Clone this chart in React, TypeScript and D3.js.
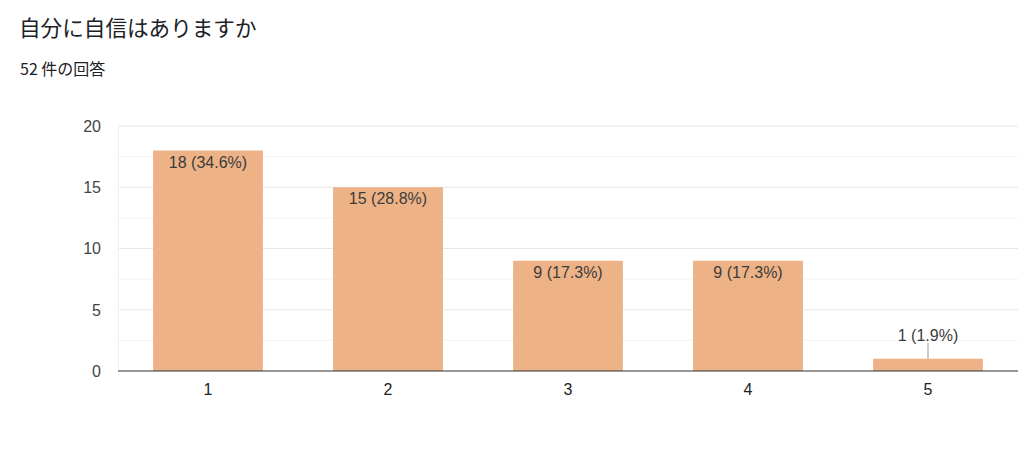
import { useEffect, useRef } from "react";
import * as d3 from "d3";

const title = "自分に自信はありますか";
const subtitle = "52 件の回答";
const categories = ["1", "2", "3", "4", "5"];
const counts = [18, 15, 9, 9, 1];
const percents = ["34.6%", "28.8%", "17.3%", "17.3%", "1.9%"];
const yTicks = [0, 5, 10, 15, 20];
const yMinorTicks = [2.5, 7.5, 12.5, 17.5];

const W = 1024,
  H = 462;
const m = { top: 126, right: 6, bottom: 91, left: 118 };
const FONT = "'Liberation Sans', Arial, 'Noto Sans CJK JP', sans-serif";
const JP = "'Noto Sans CJK JP', sans-serif";

export default function App() {
  const ref = useRef<SVGSVGElement>(null);

  useEffect(() => {
    document.body.style.margin = "0";
    const svg = d3.select(ref.current!);
    svg.selectAll("*").remove();

    const x = d3
      .scaleBand<string>()
      .domain(categories)
      .range([m.left, W - m.right])
      .paddingInner(0.39)
      .paddingOuter(0.195);

    const y = d3
      .scaleLinear()
      .domain([0, 20])
      .range([H - m.bottom, m.top]);

    // title + response count
    svg
      .append("text")
      .attr("x", 19)
      .attr("y", 36)
      .attr("font-family", JP)
      .attr("font-size", 21.6)
      .attr("fill", "#202124")
      .text(title);

    svg
      .append("text")
      .attr("x", 20)
      .attr("y", 75)
      .attr("font-family", JP)
      .attr("font-size", 16)
      .attr("fill", "#202124")
      .text(subtitle);

    // gridlines
    svg
      .append("g")
      .selectAll("line")
      .data(yMinorTicks)
      .join("line")
      .attr("x1", m.left)
      .attr("x2", W - m.right)
      .attr("y1", (d) => y(d))
      .attr("y2", (d) => y(d))
      .attr("stroke", "#f3f3f3");

    svg
      .append("g")
      .selectAll("line")
      .data(yTicks.filter((d) => d !== 0))
      .join("line")
      .attr("x1", m.left)
      .attr("x2", W - m.right)
      .attr("y1", (d) => y(d))
      .attr("y2", (d) => y(d))
      .attr("stroke", "#e6e6e6");

    svg
      .append("line")
      .attr("x1", m.left + 0.5)
      .attr("x2", m.left + 0.5)
      .attr("y1", y(20))
      .attr("y2", y(0))
      .attr("stroke", "#f0f0f0");

    // y labels
    svg
      .append("g")
      .selectAll("text")
      .data(yTicks)
      .join("text")
      .attr("x", 101)
      .attr("y", (d) => y(d))
      .attr("dy", "0.36em")
      .attr("text-anchor", "end")
      .attr("font-family", FONT)
      .attr("font-size", 16)
      .attr("fill", "#444")
      .text((d) => d);

    // bars
    svg
      .append("g")
      .selectAll("rect")
      .data(counts)
      .join("rect")
      .attr("x", (_, i) => x(categories[i])!)
      .attr("y", (d) => y(d))
      .attr("width", x.bandwidth())
      .attr("height", (d) => y(0) - y(d))
      .attr("fill", "#edb386");

    // bar labels: inside when there is room, otherwise above with a leader line
    counts.forEach((c, i) => {
      const cx = x(categories[i])! + x.bandwidth() / 2;
      const label = `${c} (${percents[i]})`;
      const inside = y(0) - y(c) > 24;
      if (!inside) {
        svg
          .append("line")
          .attr("x1", cx)
          .attr("x2", cx)
          .attr("y1", y(c))
          .attr("y2", y(c) - 16)
          .attr("stroke", "#999");
      }
      svg
        .append("text")
        .attr("x", cx)
        .attr("y", inside ? y(c) + 17 : y(c) - 18)
        .attr("text-anchor", "middle")
        .attr("font-family", FONT)
        .attr("font-size", 16)
        .attr("fill", "#3c3c3c")
        .text(label);
    });

    // baseline
    svg
      .append("line")
      .attr("x1", m.left)
      .attr("x2", W - m.right)
      .attr("y1", y(0))
      .attr("y2", y(0))
      .attr("stroke", "#333")
      .attr("stroke-width", 1.2);

    // x labels
    svg
      .append("g")
      .selectAll("text")
      .data(categories)
      .join("text")
      .attr("x", (d) => x(d)! + x.bandwidth() / 2)
      .attr("y", 395)
      .attr("text-anchor", "middle")
      .attr("font-family", FONT)
      .attr("font-size", 16)
      .attr("fill", "#222")
      .text((d) => d);
  }, []);

  return (
    <svg
      ref={ref}
      width={W}
      height={H}
      style={{ display: "block", background: "#fff" }}
    />
  );
}
